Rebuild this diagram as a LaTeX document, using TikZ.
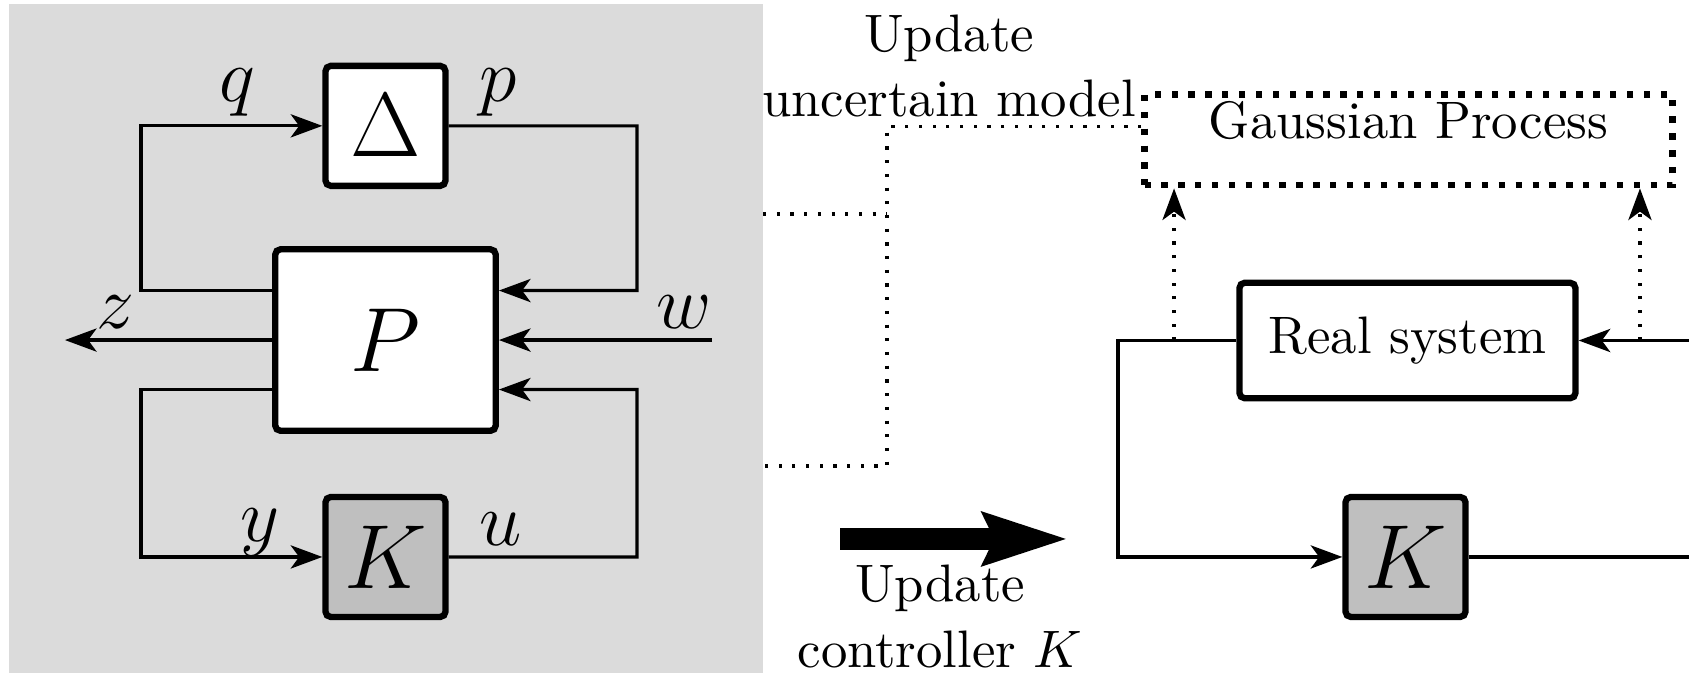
\documentclass[tikz,border=0pt]{standalone}
\usepackage{tikz}
\usetikzlibrary{arrows.meta, calc, positioning}
\tikzstyle{block} = [rectangle, rounded corners=1pt, draw=black, line width=1.2pt, fill=white, minimum width=0.8cm, minimum height=0.8cm]
\tikzstyle{plantbox} = [block, minimum width=1.47cm, minimum height=1.21cm]
\tikzstyle{ctrlbox} = [block, fill=black!25]
\tikzstyle{sysbox} = [block, minimum width=2.24cm, minimum height=0.77cm]
\tikzstyle{gpbox} = [rectangle, draw=black, line width=1.2pt, dotted, minimum width=3.52cm, inner ysep=0pt, text height=0.29cm, text depth=0.315cm]
\tikzstyle{wire} = [line width=0.6pt]
\tikzstyle{arrow} = [wire, -{Stealth[length=6pt,width=4.4pt,inset=1.6pt]}]
\tikzstyle{dotwire} = [wire, dotted]
\tikzstyle{dotarrow} = [arrow, dotted]
\tikzstyle{bigarrow} = [line width=4.2pt, -{Stealth[length=0.56cm,width=0.34cm,inset=0.07cm]}]
\tikzstyle{sig} = [font=\Large]

\begin{document}
\begin{tikzpicture}
  \useasboundingbox (0,0) rectangle (11.26,-4.487);
  \fill [black!14] (0.06,-0.027) rectangle (5.087,-4.487);

  % uncertain closed loop
  \node (delta) [block] at (2.57,-0.839) {\LARGE $\Delta$};
  \node (plant) [plantbox] at (2.57,-2.267) {\LARGE $P$};
  \node (ctrl) [ctrlbox] at (2.57,-3.713) {\LARGE $K$};
  \coordinate (zout) at (0.433,-2.267);
  \coordinate (win) at (4.747,-2.267);

  \draw [arrow] ([yshift=3.3mm]plant.west) -| (0.94,-0.839) -- (delta.west);
  \draw [arrow] (delta.east) -| (4.247,-1.937) -- ([yshift=3.3mm]plant.east);
  \draw [arrow] (plant.west) -- (zout);
  \draw [arrow] (win) -- (plant.east);
  \draw [arrow] ([yshift=-3.3mm]plant.west) -| (0.94,-3.713) -- (ctrl.west);
  \draw [arrow] (ctrl.east) -| (4.247,-2.597) -- ([yshift=-3.3mm]plant.east);

  \node (q) [sig] at (1.58,-0.62) {$q$};
  \node (p) [sig] at (3.32,-0.62) {$p$};
  \node (z) [sig] at (0.767,-2.08) {$z$};
  \node (w) [sig] at (4.56,-2.08) {$w$};
  \node (y) [sig] at (1.733,-3.55) {$y$};
  \node (u) [sig] at (3.34,-3.53) {$u$};

  % learning loop
  \node (gp) [gpbox, anchor=base] at (9.39,-0.92) {Gaussian Process};
  \node (real) [sysbox] at (9.383,-2.27) {Real system};
  \node (ctrl2) [ctrlbox] at (9.37,-3.713) {\LARGE $K$};
  \coordinate (rin) at (11.26,-2.27);
  \coordinate (rout) at (11.26,-3.713);
  \coordinate (tapl) at (7.827,-2.27);
  \coordinate (tapr) at (10.933,-2.27);

  \draw [arrow] (rin) -- (real.east);
  \draw [wire] (ctrl2.east) -- (rout);
  \draw [arrow] (real.west) -| (7.453,-3.713) -- (ctrl2.west);
  \draw [dotarrow] (tapl) -- (tapl |- gp.south);
  \draw [dotarrow] (tapr) -- (tapr |- gp.south);

  % updates
  \node (upd) [align=center] at (6.327,-0.44) {Update\\[0.5pt]uncertain model};
  \coordinate (mdl) at (5.087,-1.427);
  \coordinate (mdl2) at (5.087,-3.107);
  \draw [dotwire] (gp.mid west) -| (5.913,-3.107) -- (mdl2);
  \draw [dotwire] (mdl) -- (5.913,-1.427);

  \coordinate (ka) at (5.6,-3.593);
  \coordinate (kb) at (7.12,-3.593);
  \draw [bigarrow] (ka) -- (kb);
  \node (updk) [align=center] at (6.267,-4.11) {Update\\[0.5pt]controller $K$};
\end{tikzpicture}
\end{document}
